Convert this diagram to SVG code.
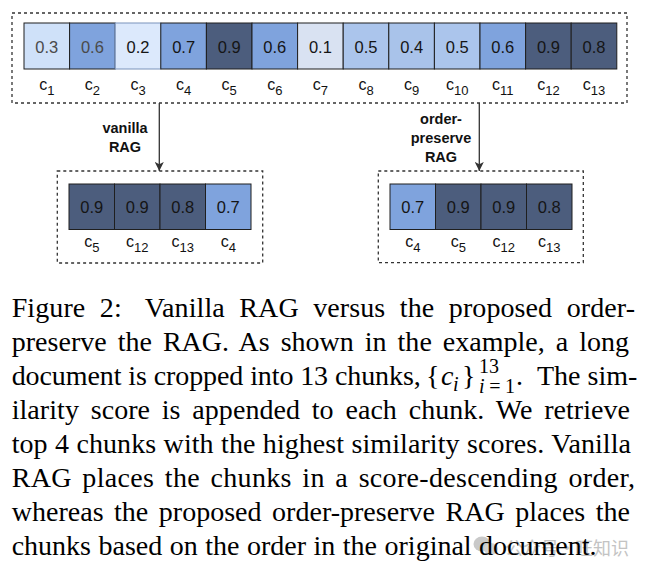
<svg xmlns="http://www.w3.org/2000/svg" width="653" height="574" viewBox="0 0 653 574">
<style>
.bg{fill:#ffffff}
.dash{fill:none;stroke:#333333;stroke-width:1.3;stroke-dasharray:3 3}
.cell{stroke:#1f1f1f;stroke-width:1}
.s1{fill:#d9e2f2}
.s2{fill:#dce9fc}
.s3{fill:#cfe1f9}
.s4{fill:#a9c3ea}
.s5{fill:#abc5ec}
.s6{fill:#7fa3dd}
.s7{fill:#7fa3dd}
.s8{fill:#4c5d7d}
.s9{fill:#4c5d7d}
.num{font-family:"Liberation Sans",Arial,sans-serif;font-size:16.5px;fill:#151515;text-anchor:middle}
.grey{fill:#4a4a4a}
.lbl{font-family:"Liberation Sans",Arial,sans-serif;font-size:16px;fill:#111;text-anchor:middle}
.sub{font-size:13px}
.tag{font-family:"Liberation Sans",Arial,sans-serif;font-size:14.5px;font-weight:bold;fill:#111;text-anchor:middle}
.edge{stroke:#333333;stroke-width:1.3;fill:none}
.cap{font-family:"Liberation Serif","Times New Roman",serif;font-size:28px;fill:#000}
.it{font-style:italic}
.sm{font-size:20px}
.wm{font-family:"Noto Sans CJK SC","Noto Sans",sans-serif;font-size:18px;fill:#bdbdbd}
</style>
<defs>
<marker id="arr" viewBox="0 0 10 10" refX="10" refY="5" markerWidth="9" markerHeight="9" markerUnits="userSpaceOnUse" orient="auto">
<path d="M0,0 L10,5 L0,10 L2.5,5 z" fill="#333333"/>
</marker>
</defs>
<rect class="bg" x="0" y="0" width="653" height="574"/>

<g id="all-chunks">
<rect class="dash" x="12" y="13" width="615" height="90"/>
<rect class="cell s3" x="24" y="23" width="45.6" height="46"/>
<rect class="cell s6" x="69.6" y="23" width="45.6" height="46"/>
<rect class="cell s2" x="115.2" y="23" width="45.6" height="46" style="stroke:#7b93bb"/>
<rect class="cell s7" x="160.8" y="23" width="45.6" height="46"/>
<rect class="cell s9" x="206.4" y="23" width="45.6" height="46"/>
<rect class="cell s6" x="252" y="23" width="45.6" height="46"/>
<rect class="cell s1" x="297.6" y="23" width="45.6" height="46"/>
<rect class="cell s5" x="343.2" y="23" width="45.6" height="46"/>
<rect class="cell s4" x="388.8" y="23" width="45.6" height="46"/>
<rect class="cell s5" x="434.4" y="23" width="45.6" height="46"/>
<rect class="cell s6" x="480" y="23" width="45.6" height="46"/>
<rect class="cell s9" x="525.6" y="23" width="45.6" height="46"/>
<rect class="cell s8" x="571.2" y="23" width="45.6" height="46"/>
<text class="num grey" x="46.8" y="52.5">0.3</text>
<text class="num grey" x="92.4" y="52.5">0.6</text>
<text class="num" x="138" y="52.5">0.2</text>
<text class="num" x="183.6" y="52.5">0.7</text>
<text class="num" x="229.2" y="52.5">0.9</text>
<text class="num" x="274.8" y="52.5">0.6</text>
<text class="num" x="320.4" y="52.5">0.1</text>
<text class="num" x="366" y="52.5">0.5</text>
<text class="num" x="411.6" y="52.5">0.4</text>
<text class="num" x="457.2" y="52.5">0.5</text>
<text class="num" x="502.8" y="52.5">0.6</text>
<text class="num" x="548.4" y="52.5">0.9</text>
<text class="num" x="594" y="52.5">0.8</text>
<text class="lbl" x="46.8" y="90">c<tspan class="sub" dy="5">1</tspan></text>
<text class="lbl" x="92.4" y="90">c<tspan class="sub" dy="5">2</tspan></text>
<text class="lbl" x="138" y="90">c<tspan class="sub" dy="5">3</tspan></text>
<text class="lbl" x="183.6" y="90">c<tspan class="sub" dy="5">4</tspan></text>
<text class="lbl" x="229.2" y="90">c<tspan class="sub" dy="5">5</tspan></text>
<text class="lbl" x="274.8" y="90">c<tspan class="sub" dy="5">6</tspan></text>
<text class="lbl" x="320.4" y="90">c<tspan class="sub" dy="5">7</tspan></text>
<text class="lbl" x="366" y="90">c<tspan class="sub" dy="5">8</tspan></text>
<text class="lbl" x="411.6" y="90">c<tspan class="sub" dy="5">9</tspan></text>
<text class="lbl" x="457.2" y="90">c<tspan class="sub" dy="5">10</tspan></text>
<text class="lbl" x="502.8" y="90">c<tspan class="sub" dy="5">11</tspan></text>
<text class="lbl" x="548.4" y="90">c<tspan class="sub" dy="5">12</tspan></text>
<text class="lbl" x="594" y="90">c<tspan class="sub" dy="5">13</tspan></text>
</g>

<g id="vanilla-result">
<rect class="dash" x="57.3" y="171" width="205.4" height="92"/>
<rect class="cell s9" x="69" y="184" width="45.5" height="45.5"/>
<rect class="cell s9" x="114.5" y="184" width="45.5" height="45.5"/>
<rect class="cell s8" x="160" y="184" width="45.5" height="45.5"/>
<rect class="cell s7" x="205.5" y="184" width="45.5" height="45.5"/>
<text class="num" x="91.75" y="212.8">0.9</text>
<text class="num" x="137.25" y="212.8">0.9</text>
<text class="num" x="182.75" y="212.8">0.8</text>
<text class="num" x="228.25" y="212.8">0.7</text>
<text class="lbl" x="91.75" y="246.7">c<tspan class="sub" dy="5.5">5</tspan></text>
<text class="lbl" x="137.25" y="246.7">c<tspan class="sub" dy="5.5">12</tspan></text>
<text class="lbl" x="182.75" y="246.7">c<tspan class="sub" dy="5.5">13</tspan></text>
<text class="lbl" x="228.25" y="246.7">c<tspan class="sub" dy="5.5">4</tspan></text>
</g>

<g id="order-preserve-result">
<rect class="dash" x="378.3" y="171" width="205" height="91.7"/>
<rect class="cell s7" x="390" y="184" width="45.5" height="45.5"/>
<rect class="cell s9" x="435.5" y="184" width="45.5" height="45.5"/>
<rect class="cell s9" x="481" y="184" width="45.5" height="45.5"/>
<rect class="cell s8" x="526.5" y="184" width="45.5" height="45.5"/>
<text class="num" x="412.75" y="212.8">0.7</text>
<text class="num" x="458.25" y="212.8">0.9</text>
<text class="num" x="503.75" y="212.8">0.9</text>
<text class="num" x="549.25" y="212.8">0.8</text>
<text class="lbl" x="412.75" y="246.7">c<tspan class="sub" dy="5.5">4</tspan></text>
<text class="lbl" x="458.25" y="246.7">c<tspan class="sub" dy="5.5">5</tspan></text>
<text class="lbl" x="503.75" y="246.7">c<tspan class="sub" dy="5.5">12</tspan></text>
<text class="lbl" x="549.25" y="246.7">c<tspan class="sub" dy="5.5">13</tspan></text>
</g>

<g id="connectors">
<line class="edge" x1="159.3" y1="103" x2="159.3" y2="171" marker-end="url(#arr)"/>
<line class="edge" x1="479.3" y1="103" x2="479.3" y2="171" marker-end="url(#arr)"/>
<text class="tag" x="125" y="133.3">vanilla</text>
<text class="tag" x="125" y="151.7">RAG</text>
<text class="tag" x="441" y="124">order-</text>
<text class="tag" x="441" y="143">preserve</text>
<text class="tag" x="441" y="161.7">RAG</text>
</g>

<g id="watermark" opacity="0.9">
<ellipse cx="482" cy="544" rx="8.5" ry="7.5" fill="#c4c4c4"/>
<ellipse cx="491" cy="549" rx="7" ry="6" fill="#cfcfcf"/>
<text class="wm" x="505" y="555">公众号</text>
<text class="wm" x="567" y="555" text-anchor="middle">·</text>
<text class="wm" x="575" y="555">旺知识</text>
</g>

<g id="caption">
<text class="cap" x="11.7" y="317" word-spacing="7.4" textLength="623.3" lengthAdjust="spacing">Figure 2: <tspan dx="9">Vanilla RAG versus the proposed order-</tspan></text>
<text class="cap" x="11.7" y="351" word-spacing="3.9" textLength="617.3" lengthAdjust="spacing">preserve the RAG. As shown in the example, a long</text>
<text class="cap" x="11.7" y="385" textLength="409" lengthAdjust="spacing">document is cropped into 13 chunks,</text>
<text class="cap" x="426" y="385">{</text>
<text class="cap it" x="441" y="385">c</text>
<text class="cap it sm" x="453" y="391">i</text>
<text class="cap" x="462" y="385">}</text>
<text class="cap sm" x="479" y="373">13</text>
<text class="cap sm" x="479" y="393" textLength="36" lengthAdjust="spacing"><tspan class="it">i</tspan>=1</text>
<text class="cap" x="516" y="385">.</text>
<text class="cap" x="537" y="385">The sim-</text>
<text class="cap" x="11.7" y="419" word-spacing="4.7" textLength="618.3" lengthAdjust="spacing">ilarity score is appended to each chunk. We retrieve</text>
<text class="cap" x="11.7" y="453" word-spacing="0.3" textLength="619.3" lengthAdjust="spacing">top 4 chunks with the highest similarity scores. Vanilla</text>
<text class="cap" x="11.7" y="487" word-spacing="3.3" textLength="623.3" lengthAdjust="spacing">RAG places the chunks in a score-descending order,</text>
<text class="cap" x="11.7" y="521" word-spacing="3.5" textLength="618.3" lengthAdjust="spacing">whereas the proposed order-preserve RAG places the</text>
<text class="cap" x="11.7" y="555" word-spacing="0.5">chunks based on the order in the original document.</text>
</g>
</svg>
